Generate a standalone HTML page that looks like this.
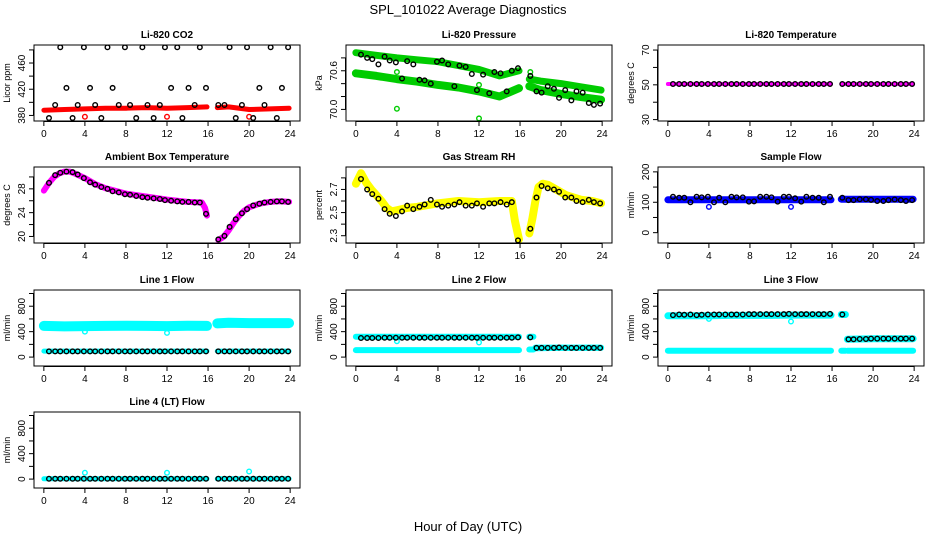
<!DOCTYPE html>
<html><head><meta charset="utf-8"><style>
html,body{margin:0;padding:0;background:#fff;}
svg{display:block;font-family:"Liberation Sans",sans-serif;}
</style></head><body>
<svg id="c" width="936" height="540" viewBox="0 0 936 540">
<text x="468" y="14" text-anchor="middle" font-size="13">SPL_101022  Average Diagnostics</text>
<text x="468" y="531" text-anchor="middle" font-size="13">Hour of Day (UTC)</text>
</svg>
<script>
const xTicks=[0,4,8,12,16,20,24];
const BH=[0.5,1.1,1.6,2.2,2.8,3.3,3.9,4.5,5.0,5.6,6.2,6.7,7.3,7.9,8.4,9.0,9.6,10.1,10.7,11.3,11.8,12.4,13.0,13.5,14.1,14.7,15.2,15.8,17.0,17.6,18.1,18.7,19.3,19.8,20.4,21.0,21.5,22.1,22.7,23.2,23.8];
const bandH=[0,2,4,6,8,10,12,14,15.9,null,16.9,18,20,22,23.9];
const flowH=[0,2,4,6,8,10,12,14,15.9,null,16.9,17.3,null,17.5,20,22,23.9];
// CO2
const co2Band=[388,389,390,391,391,392,391,392,393,null,392,393,389,390,391];
const co2Black=[376,396,484,422,376,396,484,422,396,376,484,422,396,484,396,376,484,396,376,396,484,422,484,376,422,396,484,422,396,396,484,376,396,484,376,422,396,484,376,422,484];
const co2OutH=[4,12,20]; const co2OutV=[378,378,378];
// Pressure
const presUpper=[70.88,70.84,70.80,70.77,70.74,70.68,70.62,70.52,70.60,null,70.47,70.44,70.40,70.35,70.30];
const presLower=[70.56,70.52,70.47,70.43,70.38,70.34,70.28,70.20,70.33,null,70.36,70.30,70.24,70.19,70.15];
const presBlack=[70.85,70.80,70.78,70.70,70.82,70.76,70.73,70.48,70.75,70.70,70.46,70.45,70.40,70.74,70.76,70.70,70.36,70.68,70.66,70.55,70.30,70.54,70.25,70.58,70.56,70.28,70.60,70.64,70.52,70.28,70.26,70.36,70.32,70.18,70.30,70.14,70.28,70.26,70.10,70.07,70.09];
const presOutH=[4,12,4,12,17]; const presOutV=[70.01,69.86,70.58,70.38,70.58];
// Li-820 temperature
const tempBand=[50.5,50.5,50.5,50.5,50.5,50.5,50.5,50.5,50.5,null,50.5,50.5,50.5,50.5,50.5];
const tempBlack=[50.5,50.5,50.5,50.5,50.5,50.5,50.5,50.5,50.5,50.5,50.5,50.5,50.5,50.5,50.5,50.5,50.5,50.5,50.5,50.5,50.5,50.5,50.5,50.5,50.5,50.5,50.5,50.5,50.5,50.5,50.5,50.5,50.5,50.5,50.5,50.5,50.5,50.5,50.5,50.5,50.5];
// Ambient
const ambH=[0,0.5,1,1.5,2,2.5,3,4,5,6,8,10,12,14,15.4,15.7,15.9,null,17,17.5,18,18.5,19,19.5,20,21,22,23,23.9];
const ambBand=[27.7,29,30,30.6,30.9,30.9,30.6,29.8,28.8,28.1,27.2,26.7,26.2,25.8,25.7,24.8,23.5,null,19.4,19.9,21,22.3,23.4,24.3,24.9,25.5,25.8,25.9,25.8];
const ambBlack=[29.0,30.3,30.7,30.9,30.8,30.4,29.8,29.1,28.7,28.3,28.0,27.6,27.4,27.1,27.0,26.8,26.6,26.5,26.4,26.3,26.1,26.0,25.9,25.8,25.8,25.7,25.7,23.8,19.5,20.1,21.6,22.9,23.9,24.6,25.2,25.5,25.7,25.8,25.9,25.9,25.8];
// RH
const rhH=[0,0.5,1,1.5,2,2.5,3,3.5,4,5,6,8,10,12,14,15.2,15.5,15.9,null,16.9,17.2,17.5,17.8,18.2,18.7,19.5,20.5,22,23,23.9];
const rhBand=[2.75,2.84,2.76,2.7,2.65,2.6,2.54,2.51,2.52,2.54,2.55,2.58,2.6,2.59,2.6,2.6,2.43,2.27,null,2.32,2.45,2.6,2.72,2.75,2.74,2.7,2.65,2.61,2.6,2.58];
const rhBlack=[2.79,2.70,2.66,2.62,2.53,2.49,2.47,2.51,2.56,2.53,2.55,2.57,2.61,2.57,2.55,2.56,2.57,2.59,2.56,2.56,2.58,2.55,2.58,2.58,2.59,2.57,2.59,2.26,2.36,2.63,2.73,2.71,2.70,2.68,2.63,2.63,2.60,2.59,2.61,2.59,2.58];
// Sample flow
const sfBand=[108,108,108,108,108,108,108,108,108,null,110,110,110,110,110];
const sfBlack=[118,115,115,100,118,116,118,100,115,100,118,116,116,102,103,118,118,116,102,118,118,113,102,118,115,115,100,118,115,107,107,110,110,108,104,104,107,109,107,104,107];
const sfOutH=[4,12]; const sfOutV=[85,85];
// Line 1
const l1Upper=[490,482,488,490,492,490,488,492,490,null,530,540,535,535,535];
const l1Lower=[95,95,95,95,95,95,95,95,95,null,95,95,95,95,95];
const l1Black=[90,90,90,90,90,90,90,90,90,90,90,90,90,90,90,90,90,90,90,90,90,90,90,90,90,90,90,90,90,90,90,90,90,90,90,90,90,90,90,90,90];
const l1OutH=[4,12]; const l1OutV=[400,380];
// Line 2
const l2Upper=[320,320,320,320,320,320,320,320,320,null,320,320,null,150,150,150,150];
const l2Lower=[110,110,110,110,110,110,110,110,110,null,120,120,null,140,145,145,145];
const l2Black=[300,300,300,300,305,305,305,305,305,305,305,305,305,305,305,305,305,305,305,305,305,305,305,305,305,305,305,310,310,145,145,145,145,150,145,145,145,145,145,145,145];
const l2OutH=[4,12]; const l2OutV=[250,230];
// Line 3
const l3Upper=[650,650,650,655,655,655,660,660,660,null,670,670,null,280,290,290,290];
const l3Lower=[100,100,100,100,100,100,100,100,100,null,100,100,null,100,100,100,100];
const l3Black=[660,670,665,670,660,665,670,670,670,670,670,670,670,675,675,675,675,675,675,675,680,675,675,675,675,675,675,680,670,280,280,285,285,290,290,290,290,290,290,290,290];
const l3OutH=[4,12]; const l3OutV=[600,560];
// Line 4
const l4Band=[5,5,5,5,5,5,5,5,5,null,5,5,5,5,5];
const l4Black=[5,5,5,5,5,5,5,5,5,5,5,5,5,5,5,5,5,5,5,5,5,5,5,5,5,5,5,5,5,5,5,5,5,5,5,5,5,5,5,5,5];
const l4OutH=[4,12,20]; const l4OutV=[100,100,120];

const flowTicks=[0,200,400,600,800,1000], flowLabels=['0','','400','','800',''];
const panels=[
 {name:'co2',title:'Li-820 CO2',ylab:'Licor ppm',col:0,row:0,y0:371.5,y1:487.5,ticks:[380,400,420,440,460,480],labels:['380','','420','','460',''],
  bands:[[bandH,co2Band,'#ff0000',5]],black:co2Black,out:[[co2OutH,co2OutV,'#ff0000']]},
 {name:'pressure',title:'Li-820 Pressure',ylab:'kPa',col:1,row:0,y0:69.82,y1:71.0,ticks:[70.0,70.2,70.4,70.6,70.8],labels:['70.0','','','70.6',''],
  bands:[[bandH,presUpper,'#00cc00',7],[bandH,presLower,'#00cc00',8]],black:presBlack,out:[[presOutH,presOutV,'#00cc00']]},
 {name:'li820-temp',title:'Li-820 Temperature',ylab:'degrees C',col:2,row:0,y0:29.2,y1:72.9,ticks:[30,40,50,60,70],labels:['30','','50','','70'],
  bands:[[bandH,tempBand,'#ff00ff',4]],black:tempBlack,out:[]},
 {name:'ambient',title:'Ambient Box Temperature',ylab:'degrees C',col:0,row:1,y0:18.9,y1:31.67,ticks:[20,22,24,26,28,30],labels:['20','','24','','28',''],
  bands:[[ambH,ambBand,'#ff00ff',6]],black:ambBlack,out:[]},
 {name:'rh',title:'Gas Stream RH',ylab:'percent',col:1,row:1,y0:2.237,y1:2.894,ticks:[2.3,2.4,2.5,2.6,2.7,2.8],labels:['2.3','','2.5','','2.7',''],
  bands:[[rhH,rhBand,'#ffff00',8]],black:rhBlack,out:[]},
 {name:'sample-flow',title:'Sample Flow',ylab:'ml/min',col:2,row:1,y0:-34,y1:216,ticks:[0,50,100,150,200],labels:['0','','100','','200'],
  bands:[[bandH,sfBand,'#0000ff',7]],black:sfBlack,out:[[sfOutH,sfOutV,'#0000ff']]},
 {name:'line1-flow',title:'Line 1 Flow',ylab:'ml/min',col:0,row:2,y0:-140,y1:1055,ticks:flowTicks,labels:flowLabels,
  bands:[[bandH,l1Upper,'#00ffff',10],[bandH,l1Lower,'#00ffff',5]],black:l1Black,out:[[l1OutH,l1OutV,'#00ffff']]},
 {name:'line2-flow',title:'Line 2 Flow',ylab:'ml/min',col:1,row:2,y0:-140,y1:1055,ticks:flowTicks,labels:flowLabels,
  bands:[[flowH,l2Upper,'#00ffff',6],[flowH,l2Lower,'#00ffff',6]],black:l2Black,out:[[l2OutH,l2OutV,'#00ffff']]},
 {name:'line3-flow',title:'Line 3 Flow',ylab:'ml/min',col:2,row:2,y0:-140,y1:1055,ticks:flowTicks,labels:flowLabels,
  bands:[[flowH,l3Upper,'#00ffff',7],[flowH,l3Lower,'#00ffff',6]],black:l3Black,out:[[l3OutH,l3OutV,'#00ffff']]},
 {name:'line4-flow',title:'Line 4 (LT) Flow',ylab:'ml/min',col:0,row:3,y0:-140,y1:1055,ticks:flowTicks,labels:flowLabels,
  bands:[[bandH,l4Band,'#00ffff',5]],black:l4Black,out:[[l4OutH,l4OutV,'#00ffff']]}
];
const NS='http://www.w3.org/2000/svg', svg=document.getElementById('c');
const colL=[34,346,658], rowT=[45,167,290,412], PW=266, PH=76;
function mk(tag,attrs,parent){const e=document.createElementNS(NS,tag);for(const k in attrs)e.setAttribute(k,attrs[k]);(parent||svg).appendChild(e);return e;}
panels.forEach(p=>{
 const L=colL[p.col],T=rowT[p.row];
 const g=mk('g',{});
 
 
 const xs=h=>L+(h+0.96)/25.92*PW;
 const ys=v=>T+PH-(v-p.y0)/(p.y1-p.y0)*PH;
 const clip=mk('clipPath',{id:'cl-'+p.name},g);mk('rect',{x:L,y:T,width:PW,height:PH},clip);
 const pl=mk('g',{'clip-path':'url(#cl-'+p.name+')'},g);
 p.bands.forEach((b,bi)=>{
  let segs=[[]];
  b[0].forEach((h,i)=>{if(h===null||b[1][i]===null){segs.push([]);}else segs[segs.length-1].push(xs(h).toFixed(1)+','+ys(b[1][i]).toFixed(1));});
  segs.filter(s=>s.length).forEach(s=>{
   const e=mk('polyline',{points:s.join(' '),fill:'none',stroke:b[2],'stroke-width':b[3],'stroke-linecap':'round','stroke-linejoin':'round'},pl);
   
   
  });
 });
 p.out.forEach(o=>{o[0].forEach((h,i)=>{
  const e=mk('circle',{cx:xs(h),cy:ys(o[1][i]),r:2.3,fill:'none',stroke:o[2],'stroke-width':1.4},pl);
  
  
 });});
 p.black.forEach((v,i)=>{
  const e=mk('circle',{cx:xs(BH[i]),cy:ys(v),r:2.3,fill:'none',stroke:'#000','stroke-width':1.4},pl);
  
  
 });
 const box=mk('rect',{x:L,y:T,width:PW,height:PH,fill:'none',stroke:'#000','stroke-width':1},g);
 
 
 const t=mk('text',{x:L+PW/2,y:T-7,'text-anchor':'middle','font-size':10,'font-weight':'bold'},g);t.textContent=p.title;
 
 
 xTicks.forEach(h=>{
  mk('line',{x1:xs(h),x2:xs(h),y1:T+PH,y2:T+PH+5,stroke:'#000'},g);
  const tl=mk('text',{x:xs(h),y:T+PH+16,'text-anchor':'middle','font-size':10},g);tl.textContent=h;
  
  
 });
 mk('line',{x1:xs(0),x2:xs(24),y1:T+PH+0.5,y2:T+PH+0.5,stroke:'#000'},g);
 mk('line',{x1:L-0.5,x2:L-0.5,y1:ys(p.ticks[0]),y2:ys(p.ticks[p.ticks.length-1]),stroke:'#000'},g);
 p.ticks.forEach((v,i)=>{
  const y=ys(v);
  mk('line',{x1:L-5,x2:L,y1:y,y2:y,stroke:'#000'},g);
  if(p.labels[i]){const tl=mk('text',{x:L-9,y:y,'text-anchor':'middle','font-size':10,transform:'rotate(-90 '+(L-9)+' '+y+')'},g);tl.textContent=p.labels[i];
   
   }
 });
 const yl=mk('text',{x:L-24,y:T+PH/2,'text-anchor':'middle','font-size':9,transform:'rotate(-90 '+(L-24)+' '+(T+PH/2)+')'},g);yl.textContent=p.ylab;
 
 
});
</script>
</body></html>
